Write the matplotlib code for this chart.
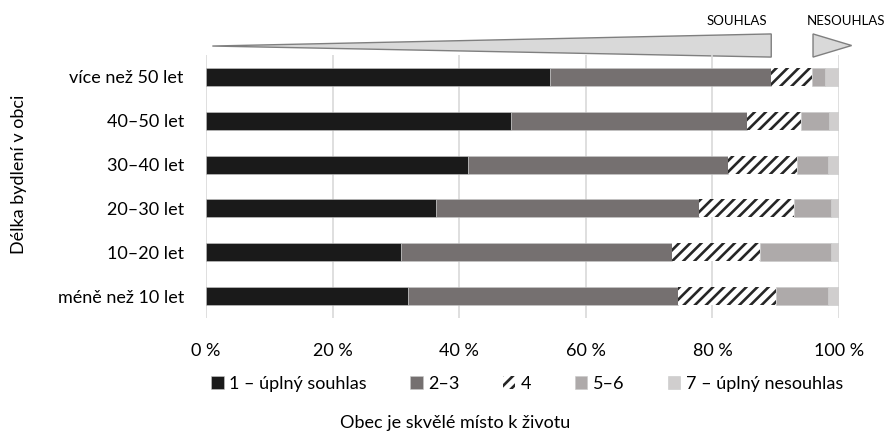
import numpy as np
import matplotlib
matplotlib.use('Agg')
import matplotlib.pyplot as plt
from matplotlib.patches import Polygon
from matplotlib.transforms import blended_transform_factory

plt.rcParams['font.family'] = ['Lato', 'DejaVu Sans']
plt.rcParams['hatch.linewidth'] = 1.9

# categories from bottom to top
groups = ['méně než 10 let', '10–20 let', '20–30 let', '30–40 let', '40–50 let', 'více než 50 let']
answers = ['1 – úplný souhlas', '2–3', '4', '5–6', '7 – úplný nesouhlas']

# percent shares per answer, same order as groups
s1 = [31.9, 30.8, 36.3, 41.4, 48.2, 54.3]
s23 = [42.6, 42.8, 41.6, 41.0, 37.2, 35.0]
s4 = [15.5, 14.0, 15.0, 11.0, 8.6, 6.5]
s56 = [8.2, 11.1, 5.8, 4.9, 4.5, 2.0]
s7 = [1.8, 1.3, 1.3, 1.7, 1.5, 2.2]

xticks = [0, 20, 40, 60, 80, 100]
xticklabels = ['0 %', '20 %', '40 %', '60 %', '80 %', '100 %']

colors = ['#1a1a1a', '#757070', 'white', '#aeaaaa', '#d0cece']
hatches = [None, None, '///', None, None]

fig = plt.figure(figsize=(8.93, 4.36), dpi=100)
ax = fig.add_axes([0.2307, 0.2706, 0.7088, 0.6033])

y = np.arange(len(groups))
left = np.zeros(len(groups))
handles = []
for vals, lab, col, h in zip([s1, s23, s4, s56, s7], answers, colors, hatches):
    if h:
        b = ax.barh(y, vals, left=left, height=0.41, color=col, edgecolor='#262626',
                    linewidth=0, hatch=h, label=lab, zorder=3)
    else:
        b = ax.barh(y, vals, left=left, height=0.41, color=col, edgecolor='#c8c8c8',
                    linewidth=0.4, label=lab, zorder=3)
    handles.append(b)
    left += np.array(vals)

ax.set_xlim(0, 100)
ax.set_ylim(-0.5, len(groups) - 0.5)
ax.set_yticks(y)
ax.set_yticklabels(groups, fontsize=13)
ax.set_xticks(xticks)
ax.set_xticklabels(xticklabels, fontsize=13)
ax.tick_params(axis='both', length=0)
ax.tick_params(axis='y', pad=16)
ax.tick_params(axis='x', pad=18)
ax.grid(axis='x', color='#d9d9d9', linewidth=1.2, zorder=0)
for sp in ax.spines.values():
    sp.set_visible(False)

# agreement scale triangles above the bars
tr = blended_transform_factory(ax.transData, ax.transAxes)
big = Polygon([[1.0, 1.034], [89.3, 1.080], [89.3, 0.992]], closed=True,
              facecolor='#d9d9d9', edgecolor='#7f7f7f', linewidth=1,
              transform=tr, clip_on=False)
small = Polygon([[95.9, 1.080], [95.9, 0.992], [102.0, 1.036]], closed=True,
                facecolor='#d9d9d9', edgecolor='#7f7f7f', linewidth=1,
                transform=tr, clip_on=False)
ax.add_patch(big)
ax.add_patch(small)
ax.text(83.9, 1.129, 'SOUHLAS', transform=tr, ha='center', va='center', fontsize=9.5)
ax.text(101.1, 1.129, 'NESOUHLAS', transform=tr, ha='center', va='center', fontsize=9.5)

fig.text(19 / 893, 1 - 174 / 436, 'Délka bydlení v obci', rotation=90,
         ha='center', va='center', fontsize=13)
fig.text(455 / 893, 1 - 423 / 436, 'Obec je skvělé místo k životu',
         ha='center', va='center', fontsize=13)

fig.legend(handles=handles, labels=answers, loc='center', ncol=5,
           bbox_to_anchor=(527 / 893, 1 - 384 / 436), frameon=False, fontsize=13,
           handlelength=0.7, handleheight=0.7, handletextpad=0.3, columnspacing=2.4)

fig.savefig('out.png', dpi=100)
